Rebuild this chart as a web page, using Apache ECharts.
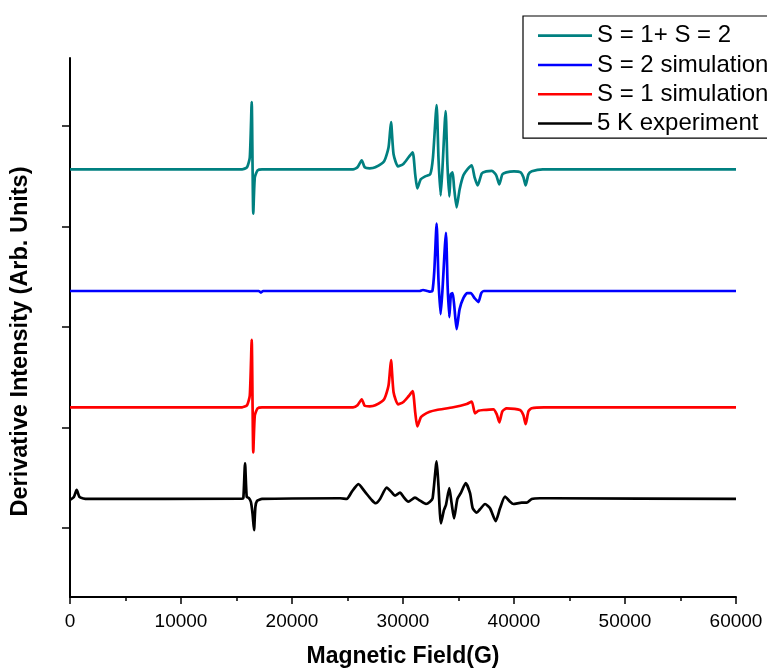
<!DOCTYPE html>
<html>
<head>
<meta charset="utf-8">
<script src="https://cdn.jsdelivr.net/npm/echarts@6/dist/echarts.min.js"></script>
<style>
  html, body { margin: 0; padding: 0; background: #ffffff; }
  #chart { width: 767px; height: 669px; }
</style>
</head>
<body>
<div id="chart"></div>
<script>
// EPR derivative spectra: field (G) vs. derivative intensity, traces stacked with vertical offsets

const fieldTicks = [0, 10000, 20000, 30000, 40000, 50000, 60000];
const intensityTicks = [100, 200, 300, 400, 500];

const seriesNames = ['S = 1+ S = 2', 'S = 2 simulation', 'S = 1 simulation', '5 K experiment'];
const seriesColors = ['#008080', '#0000ff', '#ff0000', '#000000'];
const baselineOffsets = [456.9, 335.8, 220.1, 128.9];

// [field (G), derivative signal (arb.)] for each trace, relative to its baseline
const combinedS1S2 = [
  [0, 0], [15500, 0], [15950, 2], [16200, 12], [16370, 67], [16450, 0], [16510, -44], [16650, -8],
  [16900, -1], [17300, 0], [25500, 0], [25900, 2], [26280, 9], [26550, 2], [27000, 1], [27500, 2],
  [28300, 8], [28700, 22], [28920, 47], [29150, 15], [29550, 3], [30000, 5], [30500, 12], [30870, 17],
  [31100, -5], [31290, -19], [31600, -10], [32000, -7], [32450, -5], [32700, 12], [33030, 64],
  [33200, 10], [33390, -26], [33550, 0], [33840, 58], [34000, 5], [34170, -27], [34300, -5],
  [34470, -3], [34600, -18], [34830, -38], [35100, -20], [35440, -6], [35800, 0], [36190, 4],
  [36450, -8], [36730, -16], [37100, -4], [37500, -2], [38000, -1.5], [38400, -6], [38680, -15],
  [38950, -5], [39300, -3], [40000, -2], [40600, -3], [40850, -8], [41050, -16], [41300, -5],
  [41600, -2], [42600, 0], [60000, 0]
];

const simulationS2 = [
  [0, 0], [17000, 0], [17200, -1.5], [17400, 0], [31500, 0], [31800, 1], [32200, 0], [32450, -0.7],
  [32650, 0], [32820, 20], [33030, 67], [33200, 10], [33390, -23], [33550, 0], [33870, 58], [34020, 5],
  [34170, -26], [34320, -3], [34470, -2], [34620, -15], [34830, -38], [35100, -18], [35440, -7],
  [35800, -2], [36100, -2], [36450, -7], [36790, -11], [37050, -2], [37300, 0], [60000, 0]
];

const simulationS1 = [
  [0, 0], [15500, 0], [15950, 2], [16200, 12], [16370, 67], [16450, 0], [16510, -45], [16650, -8],
  [16900, -1], [17300, 0], [25500, 0], [25900, 2], [26280, 8], [26550, 1.5], [27000, 1], [27500, 2],
  [28300, 8], [28700, 22], [28920, 47], [29150, 15], [29550, 3], [30000, 5], [30500, 11], [30870, 16],
  [31100, -5], [31290, -19], [31600, -10], [31830, -7.7], [32400, -4.5], [33030, -2.7], [34530, 0],
  [35740, 3.3], [36190, 5.7], [36490, -6], [36800, -3.5], [37240, -2.7], [38140, -2], [38450, -7],
  [38680, -15], [38950, -4], [39340, -1], [40540, -2.7], [40850, -8], [41050, -16.7], [41300, -4],
  [41590, -1], [42700, 0], [60000, 0]
];

const experiment5K = [
  [0, -1], [350, 2], [600, 9], [850, 2], [1200, 0.5], [1600, 0], [15500, 0.3], [15620, 1],
  [15770, 35.5], [15920, 2], [16100, 1], [16300, -3], [16450, -15], [16580, -31], [16700, -8],
  [16850, -2], [17300, 0], [24320, 0.7], [24930, 0], [25380, 7], [25980, 14.7], [26580, 7],
  [27180, -1], [27540, -4.3], [27930, 0], [28530, 11.3], [28980, 6.7], [29280, 3.3], [29730, 6.3],
  [30030, 2.3], [30480, -2.7], [31080, 1.3], [31530, -1.7], [32070, -5], [32430, -2.7], [32670, 0.7],
  [33030, 37.3], [33180, 15.7], [33420, -24.3], [33690, -11], [33870, -6], [34170, 10.7],
  [34380, -4.3], [34600, -19.3], [34900, 0], [35200, 5.7], [35650, 15.7], [36040, 5.7],
  [36280, -9.3], [36640, -13.7], [36940, -10.3], [37390, -5], [37840, -9.3], [38350, -22],
  [38740, -9.3], [39190, 2.3], [39640, -2.7], [39940, -5], [40690, -3.7], [41140, -3.7],
  [41590, 0], [42340, 0.7], [43240, 0.7], [60000, 0]
];

const traces = [combinedS1S2, simulationS2, simulationS1, experiment5K];

const chart = echarts.init(document.getElementById('chart'), null, { renderer: 'canvas' });

const FONT = '"Liberation Sans", Arial, Helvetica, sans-serif';

const series = traces.map((pts, i) => ({
  name: seriesNames[i],
  type: 'line',
  data: pts.map(p => [p[0], p[1] + baselineOffsets[i]]),
  symbol: 'none',
  smooth: 0.2,
  lineStyle: { color: seriesColors[i], width: 2.7 },
  itemStyle: { color: seriesColors[i] },
  z: 2 + i
}));

chart.setOption({
  animation: false,
  backgroundColor: '#ffffff',
  grid: { left: 70, right: 31, top: 58, bottom: 72, containLabel: false, outerBoundsMode: 'none' },
  legend: {
    data: seriesNames.map((n, i) => ({ name: n, icon: 'rect', itemStyle: { color: seriesColors[i] } })),
    orient: 'vertical',
    left: 523,
    top: 16,
    padding: [5, 40, 0, 15],
    itemWidth: 54,
    itemHeight: 2.6,
    itemGap: 0,
    textStyle: { fontFamily: FONT, fontSize: 24, color: '#000', lineHeight: 29.3 },
    borderColor: '#000',
    borderWidth: 1.2,
    backgroundColor: '#fff'
  },
  xAxis: {
    type: 'value',
    min: fieldTicks[0],
    max: fieldTicks[fieldTicks.length - 1],
    interval: 10000,
    name: 'Magnetic Field(G)',
    nameLocation: 'middle',
    nameGap: 48,
    nameTextStyle: { fontFamily: FONT, fontSize: 23, fontWeight: 'bold', color: '#000' },
    axisLine: { show: true, lineStyle: { color: '#000', width: 2 } },
    axisTick: { show: true, length: 7, lineStyle: { color: '#000', width: 1.5 } },
    minorTick: { show: true, splitNumber: 2, length: 4, lineStyle: { color: '#000', width: 1.5 } },
    axisLabel: { fontFamily: FONT, fontSize: 19, color: '#000', margin: 15, formatter: v => String(v) },
    splitLine: { show: false }
  },
  yAxis: {
    type: 'value',
    min: 31.34,
    max: 567.66,
    name: 'Derivative Intensity (Arb. Units)',
    nameLocation: 'middle',
    nameGap: 37,
    nameTextStyle: { fontFamily: FONT, fontSize: 23.5, fontWeight: 'bold', color: '#000', padding: [0, 28, 0, 0] },
    axisLine: { show: true, lineStyle: { color: '#000', width: 2 } },
    axisTick: { show: true, length: 8, customValues: intensityTicks, lineStyle: { color: '#000', width: 1.5 } },
    axisLabel: { show: false },
    splitLine: { show: false }
  },
  series: series
});
</script>
</body>
</html>
